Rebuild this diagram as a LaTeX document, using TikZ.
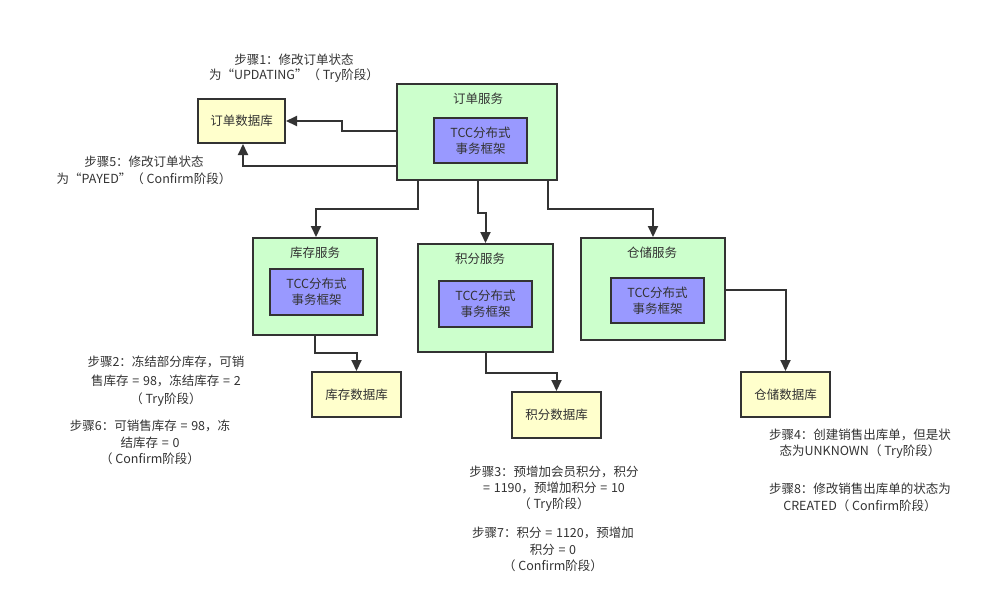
\documentclass[tikz,border=0pt]{standalone}
\usepackage{fontspec}
\setmainfont{Noto Sans CJK SC}
\usetikzlibrary{arrows.meta}
\definecolor{svcgreen}{HTML}{CCFFCC}
\definecolor{tccblue}{HTML}{9999FF}
\definecolor{dbyellow}{HTML}{FFFFCC}
\definecolor{ink}{HTML}{333333}
\newcommand{\eqs}{\hspace{0.3em}=\hspace{0.3em}}
\begin{document}
\begin{tikzpicture}[x=1pt,y=-1pt,
  every node/.style={inner sep=0pt, text=ink, font=\fontsize{12.5}{17}\selectfont},
  svcbox/.style={draw=ink, line width=2pt, fill=svcgreen},
  tccbox/.style={draw=ink, line width=2pt, fill=tccblue, align=center, font=\fontsize{12.5}{16}\selectfont},
  dbbox/.style={draw=ink, line width=2pt, fill=dbyellow},
  note/.style={align=center},
  arr/.style={draw=ink, line width=2pt, -{Triangle[length=11pt,width=10pt]}}
]
\useasboundingbox (0,0) rectangle (991,598);
\fill[white] (0,0) rectangle (991,598);

% services
\node[svcbox, minimum width=160pt, minimum height=96pt] (orderSvc) at (477,132) {};
\node (orderT) at (478,99) {订单服务};
\node[tccbox, minimum width=93pt, minimum height=45pt] (orderTcc) at (480.5,140.5) {TCC分布式\\事务框架};

\node[svcbox, minimum width=124pt, minimum height=97pt] (invSvc) at (315,286.5) {};
\node (invT) at (315,253) {库存服务};
\node[tccbox, minimum width=93pt, minimum height=46pt] (invTcc) at (316.5,292) {TCC分布式\\事务框架};

\node[svcbox, minimum width=135pt, minimum height=108pt] (ptsSvc) at (485.5,298) {};
\node (ptsT) at (480,259) {积分服务};
\node[tccbox, minimum width=93pt, minimum height=46pt] (ptsTcc) at (485.5,304) {TCC分布式\\事务框架};

\node[svcbox, minimum width=144pt, minimum height=102pt] (whSvc) at (653,289) {};
\node (whT) at (652,253) {仓储服务};
\node[tccbox, minimum width=93pt, minimum height=45pt] (whTcc) at (657.5,300.5) {TCC分布式\\事务框架};

% databases
\node[dbbox, minimum width=87pt, minimum height=44pt] (orderDB) at (241.5,121) {订单数据库};
\node[dbbox, minimum width=89pt, minimum height=45pt] (invDB) at (356.5,394.5) {库存数据库};
\node[dbbox, minimum width=89pt, minimum height=46pt] (ptsDB) at (556.5,415) {积分数据库};
\node[dbbox, minimum width=89pt, minimum height=45pt] (whDB) at (785.5,394.5) {仓储数据库};

% connectors
\draw[arr] ([yshift=1pt]orderSvc.west) -- ++(-54,0) |- (orderDB.east);
\draw[arr] ([yshift=-34pt]orderSvc.west) -| ([xshift=1.5pt]orderDB.south);
\draw[arr] ([xshift=-59pt]orderSvc.south) -- ++(0,28) -| ([xshift=1pt]invSvc.north);
\draw[arr] ([xshift=1pt]orderSvc.south) -- ++(0,32) -| (ptsSvc.north);
\draw[arr] ([xshift=71pt]orderSvc.south) -- ++(0,28) -| (whSvc.north);
\draw[arr] (invSvc.south) -- ++(0,17) -| (invDB.north);
\draw[arr] (ptsSvc.south) -- ++(0,20) -| (ptsDB.north);
\draw[arr] ([yshift=-1pt]whSvc.east) -| (whDB.north);

% notes
\node[note, font=\fontsize{12.5}{15.5}\selectfont] (s1) at (294,68) {步骤1：修改订单状态\\为“UPDATING”（ Try阶段）};
\node[note] (s5) at (144,170.5) {步骤5：修改订单状态\\为“PAYED”（ Confirm阶段）};
\node[note, font=\fontsize{12.5}{18.5}\selectfont] (s2) at (166,381.5) {步骤2：冻结部分库存，可销\\售库存\eqs98，冻结库存\eqs2\\（ Try阶段）};
\node[note, font=\fontsize{12.5}{16.5}\selectfont] (s6) at (150,442.5) {步骤6：可销售库存\eqs98，冻\\结库存\eqs0\\（ Confirm阶段）};
\node[note, font=\fontsize{12.5}{16}\selectfont] (s3) at (554,489) {步骤3：预增加会员积分，积分\\=\hspace{0.3em}1190，预增加积分\eqs10\\（ Try阶段）};
\node[note, font=\fontsize{12.5}{16.5}\selectfont] (s7) at (553,549.5) {步骤7：积分\eqs1120，预增加\\积分\eqs0\\（ Confirm阶段）};
\node[note, font=\fontsize{12.5}{16}\selectfont] (s4) at (860,444) {步骤4：创建销售出库单，但是状\\态为UNKNOWN（ Try阶段）};
\node[note, font=\fontsize{12.5}{17}\selectfont] (s8) at (860,497.5) {步骤8：修改销售出库单的状态为\\CREATED（ Confirm阶段）};
\end{tikzpicture}
\end{document}
